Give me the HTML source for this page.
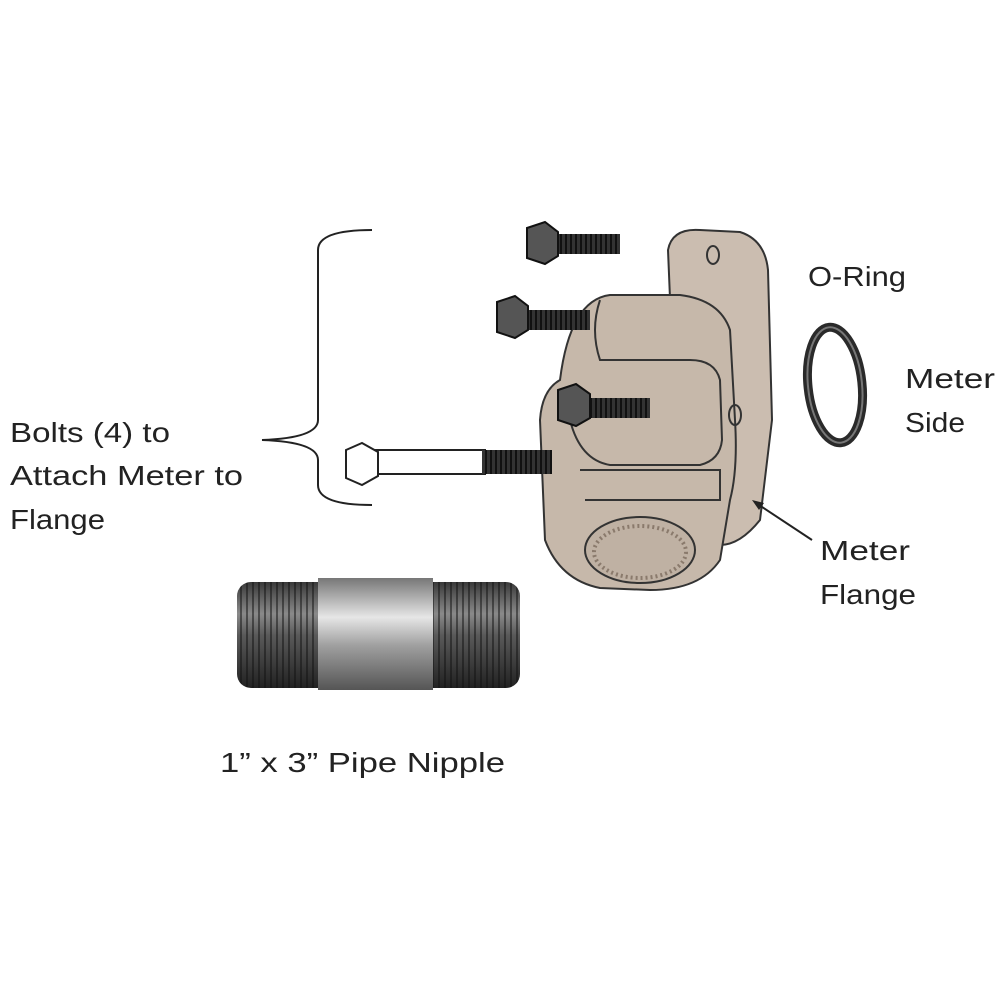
<!DOCTYPE html>
<html><head><meta charset="utf-8"><style>
html,body{margin:0;padding:0;background:#fff;}
svg{display:block}
text{font-family:"Liberation Sans",sans-serif;font-size:28px;fill:#222}
</style></head><body>
<svg width="1000" height="1000" viewBox="0 0 1000 1000">
<defs>
<linearGradient id="pipe" x1="0" y1="0" x2="0" y2="1">
<stop offset="0" stop-color="#3a3a3a"/><stop offset="0.3" stop-color="#8a8a8a"/><stop offset="0.5" stop-color="#5a5a5a"/><stop offset="1" stop-color="#222"/></linearGradient>
<linearGradient id="pipemid" x1="0" y1="0" x2="0" y2="1">
<stop offset="0" stop-color="#777"/><stop offset="0.35" stop-color="#e6e6e6"/><stop offset="0.6" stop-color="#a0a0a0"/><stop offset="1" stop-color="#555"/></linearGradient>
<pattern id="thr" width="6" height="10" patternUnits="userSpaceOnUse"><rect width="6" height="10" fill="none"/><rect width="2" height="10" fill="#111" opacity="0.5"/></pattern>
<pattern id="bthr" width="5" height="10" patternUnits="userSpaceOnUse"><rect width="5" height="10" fill="#333"/><rect width="2" height="10" fill="#111"/></pattern>
</defs>

<path d="M372 230 Q318 230 318 250 L318 420 Q318 438 262 440 Q318 442 318 460 L318 485 Q318 505 372 505" fill="none" stroke="#222" stroke-width="2"/>

<path d="M668 250 Q672 228 700 230 L740 232 Q765 240 768 270 L772 420 L760 520 Q740 545 720 545 L680 540 Z" fill="#cbbdb0" stroke="#333" stroke-width="2"/>
<path d="M560 380 Q570 300 610 295 L680 295 Q720 300 730 330 L735 420 Q738 470 730 500 L720 560 Q700 590 650 590 L600 588 Q560 580 545 540 L540 420 Q542 390 560 380 Z" fill="#c6b8aa" stroke="#333" stroke-width="2"/>
<path d="M600 300 Q590 330 600 360 L690 360 Q715 360 720 380 L722 440 Q720 460 700 465 L610 465 Q580 460 570 420" fill="none" stroke="#333" stroke-width="2"/>
<path d="M580 470 L720 470 L720 500 L585 500" fill="none" stroke="#333" stroke-width="2"/>
<ellipse cx="640" cy="550" rx="55" ry="33" fill="#bfb1a3" stroke="#333" stroke-width="2"/>
<ellipse cx="640" cy="552" rx="46" ry="26" fill="none" stroke="#8a7a6c" stroke-width="4" stroke-dasharray="2 3"/>
<ellipse cx="735" cy="415" rx="6" ry="10" fill="none" stroke="#333" stroke-width="2"/>
<ellipse cx="713" cy="255" rx="6" ry="9" fill="none" stroke="#333" stroke-width="2"/>

<ellipse cx="835" cy="385" rx="27" ry="58" fill="none" stroke="#2a2a2a" stroke-width="9" transform="rotate(-6 835 385)"/>
<ellipse cx="835" cy="385" rx="27" ry="58" fill="none" stroke="#777" stroke-width="2" transform="rotate(-6 835 385)"/>

<g>
<rect x="552" y="234" width="68" height="20" fill="url(#bthr)"/>
<path d="M527 228 L545 222 L558 232 L558 256 L545 264 L527 258 Z" fill="#555" stroke="#111" stroke-width="2"/>
<rect x="522" y="310" width="68" height="20" fill="url(#bthr)"/>
<path d="M497 302 L515 296 L528 306 L528 330 L515 338 L497 332 Z" fill="#555" stroke="#111" stroke-width="2"/>
<rect x="584" y="398" width="66" height="20" fill="url(#bthr)"/>
<path d="M558 390 L576 384 L590 394 L590 418 L576 426 L558 420 Z" fill="#555" stroke="#111" stroke-width="2"/>
<rect x="375" y="450" width="110" height="24" fill="#fff" stroke="#222" stroke-width="2"/>
<rect x="482" y="450" width="70" height="24" fill="url(#bthr)"/>
<path d="M346 450 L362 443 L378 452 L378 476 L362 485 L346 478 Z" fill="#fff" stroke="#222" stroke-width="2"/>
</g>

<line x1="812" y1="540" x2="756" y2="503" stroke="#222" stroke-width="2"/>
<path d="M752 500 L764 503 L759 510 Z" fill="#222"/>

<rect x="237" y="582" width="283" height="106" rx="14" fill="url(#pipe)"/>
<rect x="237" y="582" width="283" height="106" rx="14" fill="url(#thr)"/>
<rect x="318" y="578" width="115" height="112" fill="url(#pipemid)"/>

<text x="10" y="442" textLength="160" lengthAdjust="spacingAndGlyphs">Bolts (4) to</text>
<text x="10" y="485" textLength="233" lengthAdjust="spacingAndGlyphs">Attach Meter to</text>
<text x="10" y="529" textLength="95" lengthAdjust="spacingAndGlyphs">Flange</text>
<text x="808" y="286" textLength="98" lengthAdjust="spacingAndGlyphs">O-Ring</text>
<text x="905" y="388" textLength="90" lengthAdjust="spacingAndGlyphs">Meter</text>
<text x="905" y="432" textLength="60" lengthAdjust="spacingAndGlyphs">Side</text>
<text x="820" y="560" textLength="90" lengthAdjust="spacingAndGlyphs">Meter</text>
<text x="820" y="604" textLength="96" lengthAdjust="spacingAndGlyphs">Flange</text>
<text x="220" y="772" textLength="285" lengthAdjust="spacingAndGlyphs">1” x 3” Pipe Nipple</text>
</svg>
</body></html>
